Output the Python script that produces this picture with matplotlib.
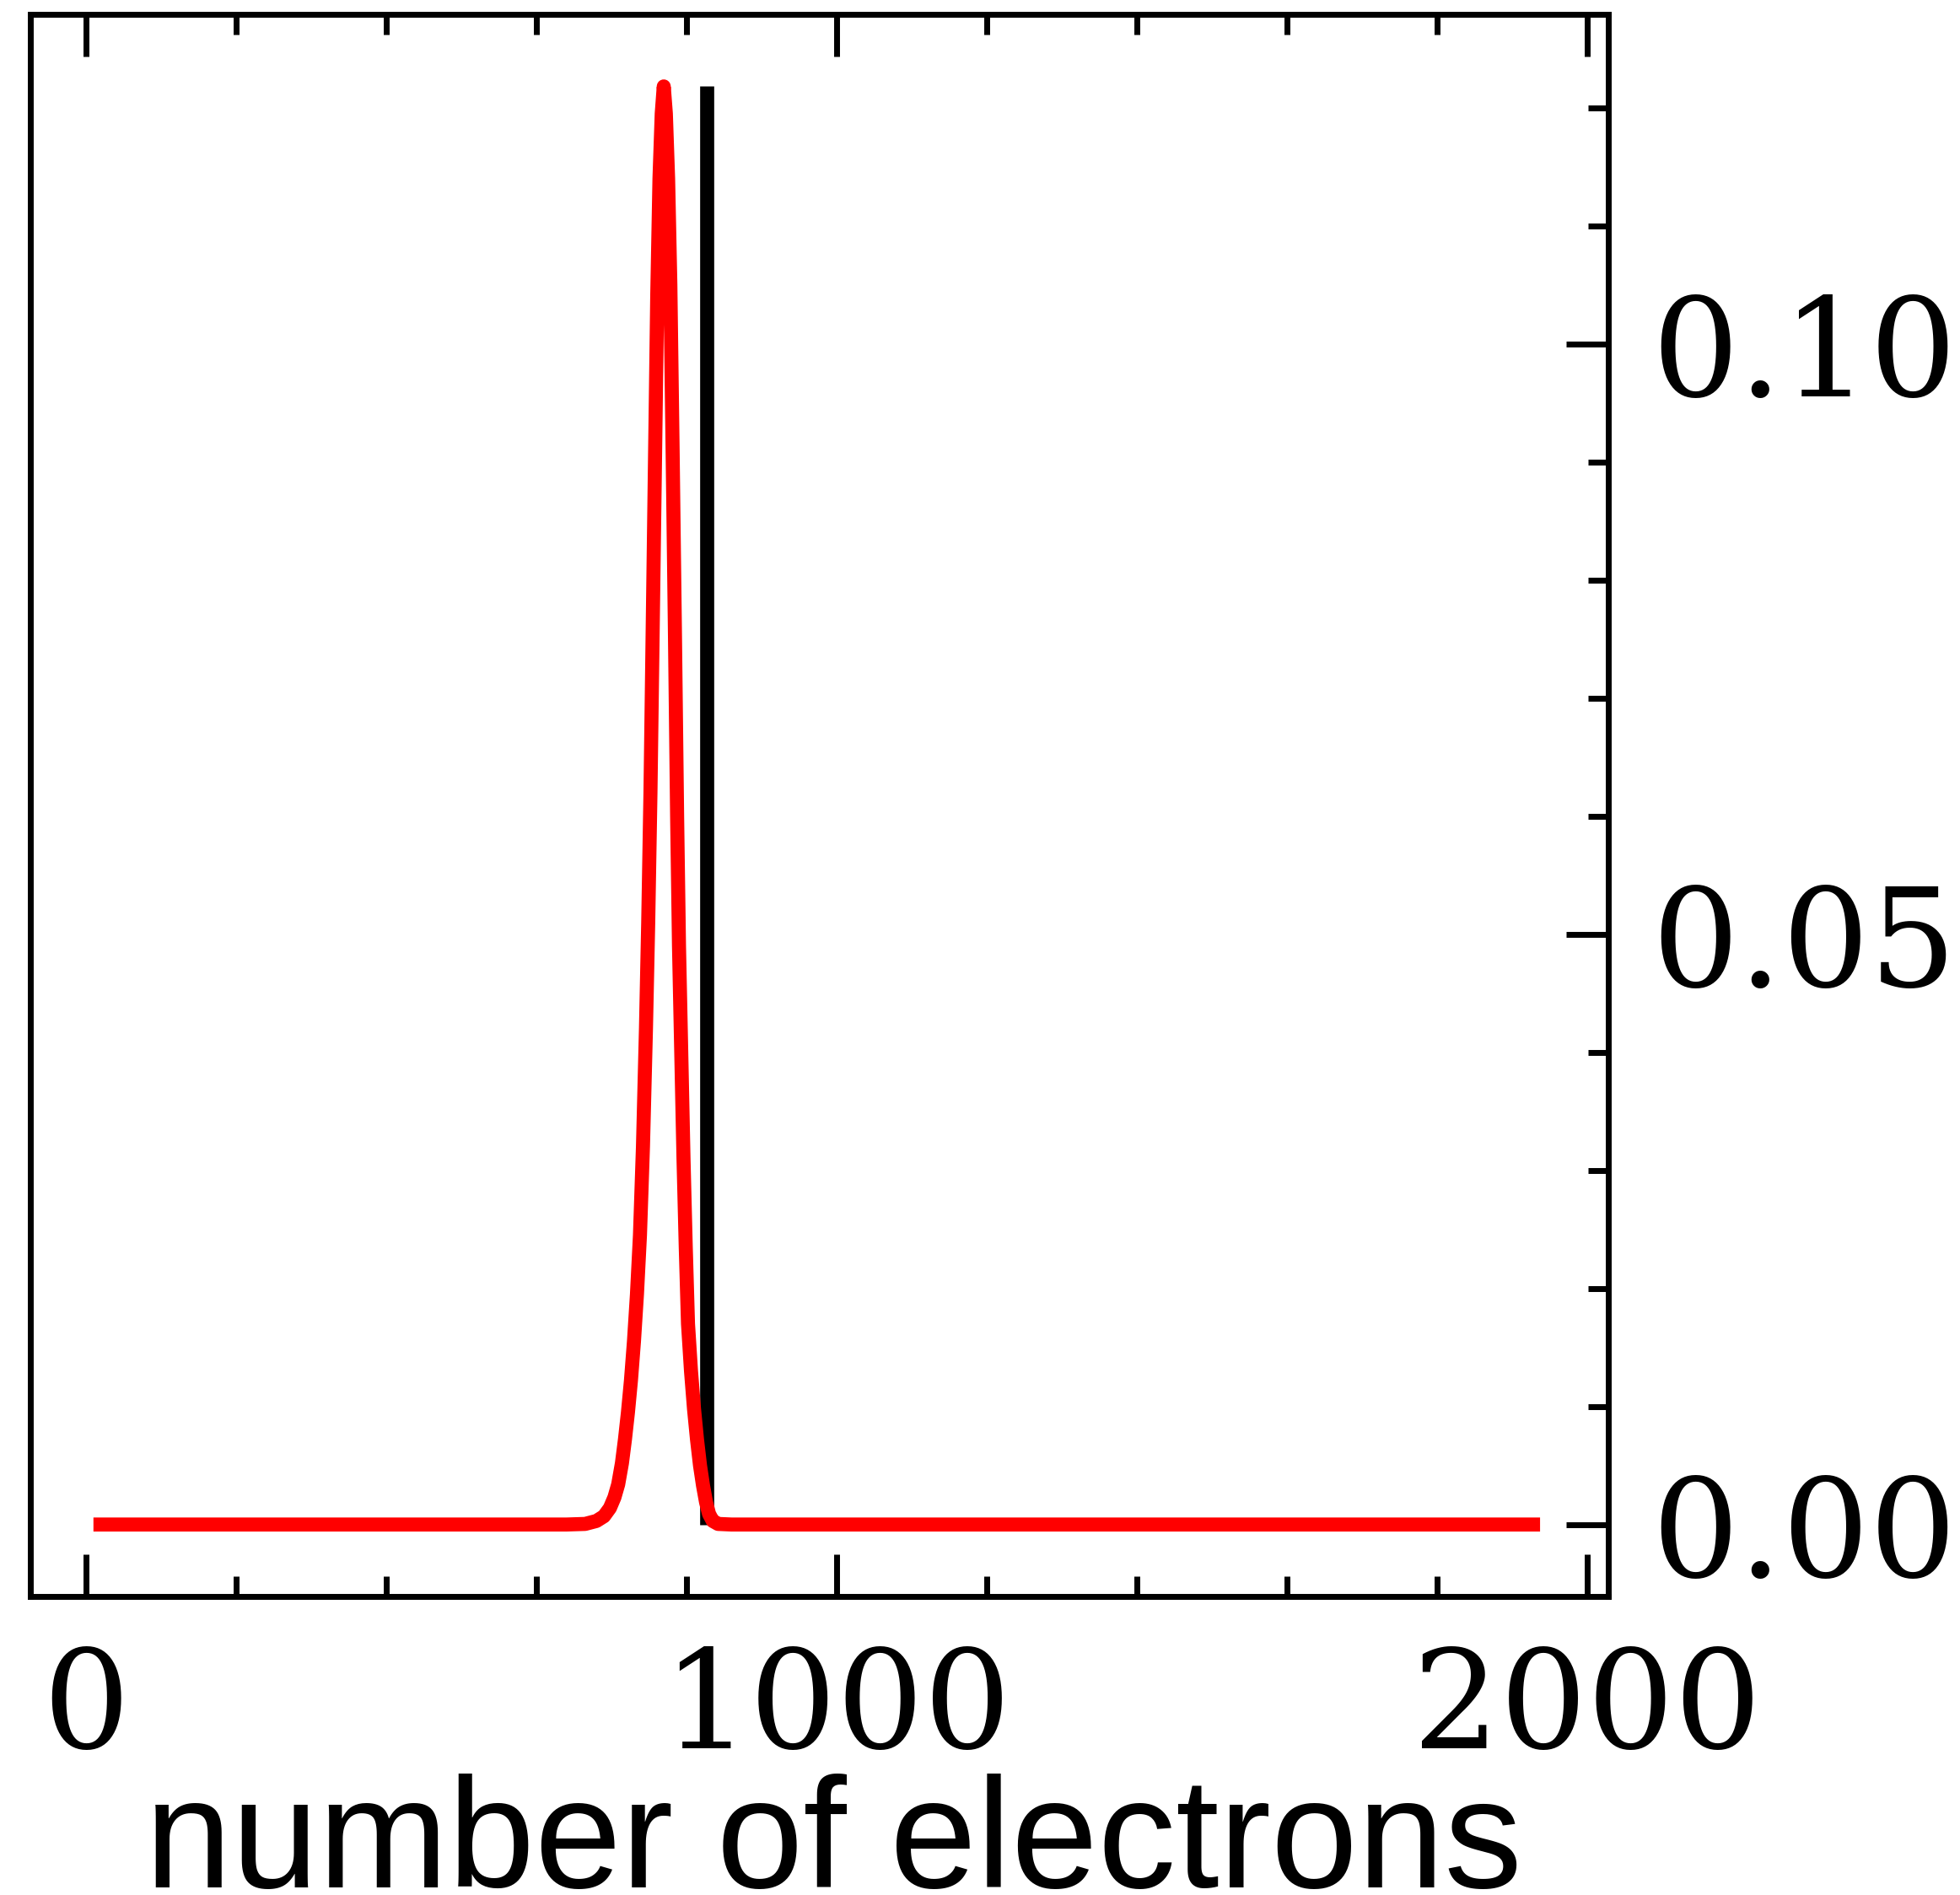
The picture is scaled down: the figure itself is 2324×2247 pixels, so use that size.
import matplotlib
matplotlib.use('Agg')
import matplotlib.pyplot as plt
from matplotlib.ticker import MultipleLocator


# red curve (number of electrons, probability)
n_el = [10, 640, 665, 680, 690, 698, 704, 709, 714, 718, 722, 726, 730, 734,
        738, 742, 746, 749, 752, 755, 758, 761, 764, 767, 769.7,
        772.5, 775.5, 778.5, 781.5, 784.5, 787.5, 790, 793, 796, 799, 802,
        806, 810, 814, 818, 822, 826, 830, 835, 842, 860, 1937]
prob = [0.0, 0.0, 0.00005, 0.0003, 0.0007, 0.0014, 0.0023, 0.0034, 0.0052,
        0.0072, 0.0095, 0.0122, 0.0155, 0.0195, 0.0245, 0.0320, 0.0420, 0.0510,
        0.0620, 0.0760, 0.0900, 0.1040, 0.1140, 0.1195, 0.1218,
        0.1195, 0.1140, 0.1050, 0.0910, 0.0760, 0.0600, 0.0490, 0.0400, 0.0310,
        0.0235, 0.0170, 0.0130, 0.0098, 0.0072, 0.0050, 0.0033, 0.0019, 0.0009,
        0.0003, 0.00005, 0.0, 0.0]

# black vertical marker
n_mark = 827
mark_top = 0.1218

xticks = [0, 1000, 2000]
yticks = [0.00, 0.05, 0.10]
xlabel = 'number of electrons'


fig = plt.figure(figsize=(23.24, 22.47), dpi=100)
ax = fig.add_axes([0.0155, 0.1575, 0.8051, 0.8349])

ax.vlines(n_mark, 0, mark_top, color='black', lw=12, capstyle='butt')
ax.plot(n_el, prob, color='red', lw=12, solid_capstyle='butt', solid_joinstyle='round')

ax.set_xlim(-74, 2028)
ax.set_ylim(-0.0061, 0.1279)

ax.set_xticks(xticks)
ax.set_xticklabels([str(t) for t in xticks])
ax.set_yticks(yticks)
ax.set_yticklabels(['%.2f' % t for t in yticks])
ax.xaxis.set_minor_locator(MultipleLocator(200))
ax.yaxis.set_minor_locator(MultipleLocator(0.01))

ax.yaxis.tick_right()
ax.tick_params(which='both', direction='in', width=5, top=True, bottom=True,
               left=False, right=True, labelleft=False, labelright=True)
ax.tick_params(which='major', length=36)
ax.tick_params(which='minor', length=17)
ax.tick_params(axis='x', which='major', pad=40)
ax.tick_params(axis='y', which='major', pad=37)

for lab in ax.get_xticklabels() + ax.get_yticklabels():
    lab.set_fontfamily('DejaVu Serif')
    lab.set_fontsize(117)

for sp in ax.spines.values():
    sp.set_linewidth(5)

ax.set_xlabel(xlabel, fontsize=133, family='Liberation Sans')
ax.xaxis.set_label_coords(0.509, -0.112)

fig.savefig('out.png', dpi=100)
